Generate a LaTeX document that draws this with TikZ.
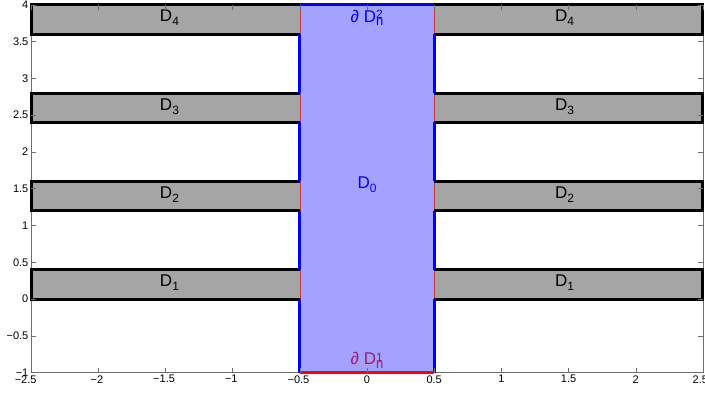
\documentclass[tikz,border=0pt]{standalone}
\usepackage{fontspec}
\setmainfont{Liberation Sans}
\usepackage{xcolor}
\usepackage{tikz}
\usetikzlibrary{calc}

\definecolor{domfill}{RGB}{163,163,255}
\definecolor{stripfill}{RGB}{165,165,165}
\definecolor{bndone}{RGB}{165,25,110}
\definecolor{axgray}{RGB}{110,110,110}

\newcommand{\dlab}[1]{D\raisebox{-0.45ex}{\fontsize{12}{12}\selectfont #1}}
\newcommand{\bndlab}[1]{∂ D\rlap{\raisebox{3.5pt}{\fontsize{12}{12}\selectfont #1}}\raisebox{-3.5pt}{\fontsize{13}{13}\selectfont n}}

\tikzset{
  stripedge/.style={black, line width=3pt, line join=miter},
  bndblue/.style={blue, line width=3pt},
  bndred/.style={red, line width=3pt},
  iface/.style={red!55!gray, line width=0.3pt},
  ticklab/.style={font=\fontsize{11}{11}\selectfont, inner sep=2.5pt},
  domlab/.style={font=\fontsize{17}{17}\selectfont}
}

\begin{document}
\begin{tikzpicture}[x=134.4pt, y=73.6pt]
    \useasboundingbox (-2.731,-1.276) rectangle (2.515,4.064);

    % Axes box
    \draw[axgray, line width=0.6pt] (-2.5,-1) rectangle (2.5,4);

    % Domain D0
    \fill[domfill] (-0.5,-1) rectangle (0.5,4);

    % Strips D1..D4
    \foreach \yb [count=\i] in {0,1.2,2.4,3.6} {
        \fill[stripfill] (-2.5,\yb) rectangle (-0.5,\yb+0.4);
        \fill[stripfill] (0.5,\yb) rectangle (2.5,\yb+0.4);
        \draw[iface] (-0.5,\yb) -- (-0.5,\yb+0.4);
        \draw[iface] (0.5,\yb) -- (0.5,\yb+0.4);
        \draw[stripedge] (-0.5,\yb) -- (-2.5,\yb) -- (-2.5,\yb+0.4) -- (-0.5,\yb+0.4);
        \draw[stripedge] (0.5,\yb) -- (2.5,\yb) -- (2.5,\yb+0.4) -- (0.5,\yb+0.4);
        \node[domlab] (dl\i) at (-1.47,\yb+0.22) {\dlab{\i}};
        \node[domlab] (dr\i) at (1.47,\yb+0.22) {\dlab{\i}};
    }

    % Boundary of D0
    \foreach \ya/\yb in {-1/0,0.4/1.2,1.6/2.4,2.8/3.6} {
        \draw[bndblue] (-0.5,\ya) -- (-0.5,\yb);
        \draw[bndblue] (0.5,\ya) -- (0.5,\yb);
    }
    \draw[bndblue] (-0.5,4) -- (0.5,4);
    \draw[bndred] (-0.5,-1) -- (0.5,-1);

    % Ticks
    \foreach \x/\t/\dx in {-2.5/−2.5/-0.04,-2/−2/-0.01,-1.5/−1.5/-0.01,-1/−1/-0.01,-0.5/−0.5/-0.01,0/0/0,0.5/0.5/0,1/1/0,1.5/1.5/0,2/2/0,2.5/2.5/-0.02} {
        \draw[axgray, line width=0.4pt] (\x,-1) -- (\x,-0.93);
        \draw[axgray, line width=0.4pt] (\x,4) -- (\x,3.93);
        \node[ticklab, below] at (\x+\dx,-1) {\t};
    }
    \foreach \y/\t in {-1/−1,-0.5/−0.5,0/0,0.5/0.5,1/1,1.5/1.5,2/2,2.5/2.5,3/3,3.5/3.5,4/4} {
        \draw[axgray, line width=0.4pt] (-2.5,\y) -- (-2.463,\y);
        \draw[axgray, line width=0.4pt] (2.5,\y) -- (2.463,\y);
        \node[ticklab, left] at (-2.5,\y) {\t};
    }

    % Labels
    \node[domlab, text=blue] (d0) at (0,1.55) {\dlab{0}};
    \node[domlab, text=blue] (bnd2) at (0,3.82) {\bndlab{2}};
    \node[domlab, text=bndone] (bnd1) at (0,-0.83) {\bndlab{1}};
\end{tikzpicture}
\end{document}
